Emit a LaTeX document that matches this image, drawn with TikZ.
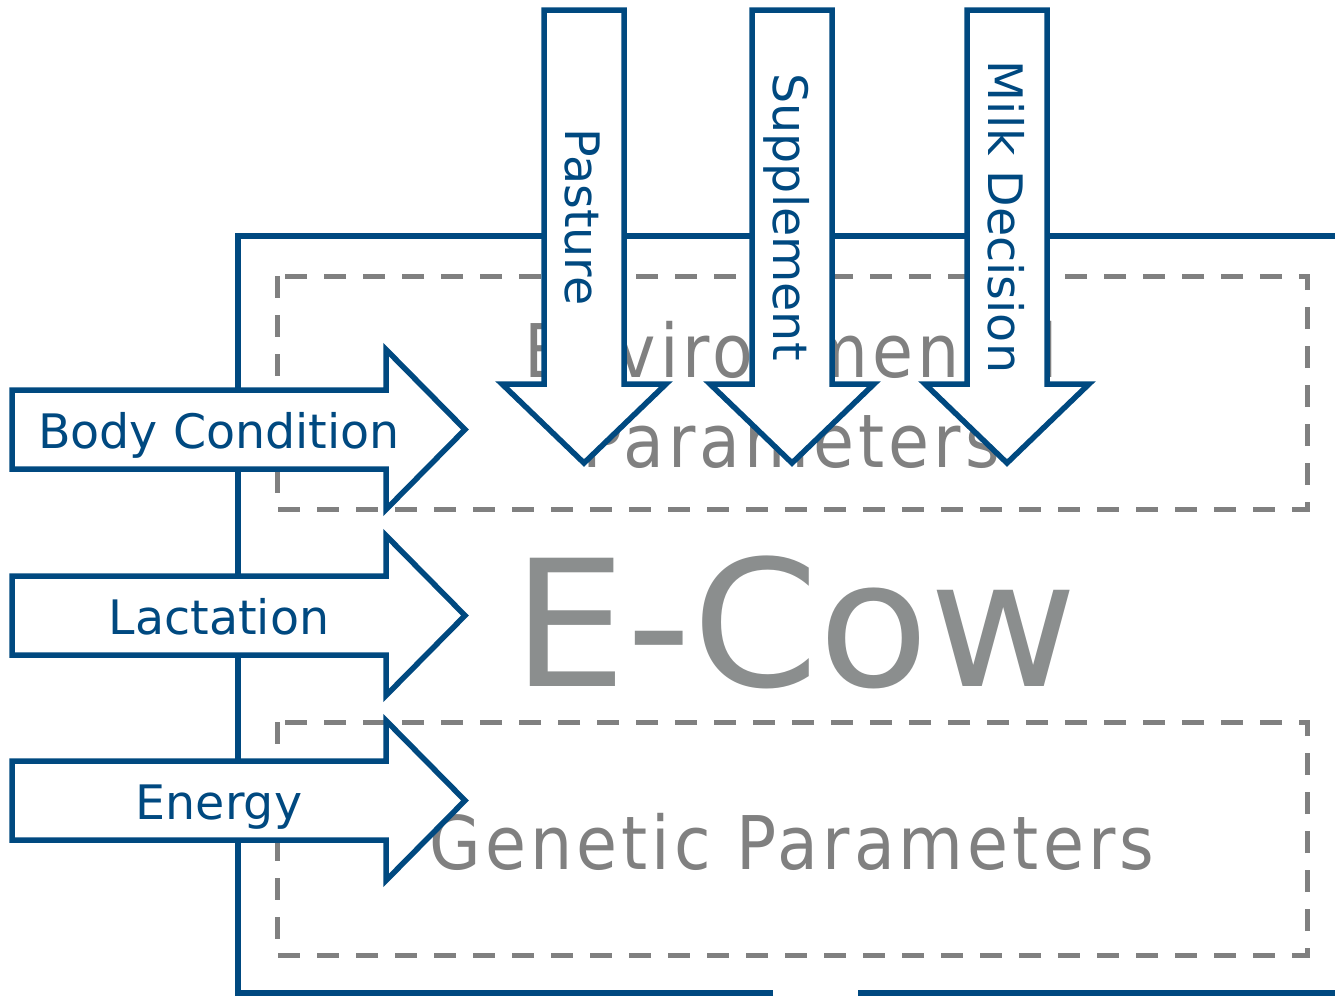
\documentclass[tikz,border=0pt]{standalone}
\usepackage{fontspec}
\setmainfont{DejaVu Sans}
\newfontfamily\zonefont[FakeStretch=0.9,LetterSpace=5.5]{DejaVu Sans}
\newfontfamily\titlefont[FakeStretch=1.03]{DejaVu Sans}
\definecolor{ecblue}{RGB}{0,73,128}
\definecolor{ecgrey}{RGB}{128,128,128}
\definecolor{ectitle}{RGB}{139,142,142}
\begin{document}
\begin{tikzpicture}[x=1pt,y=-1pt,
  frame/.style={draw=ecblue,line width=5.5pt},
  zone/.style={draw=ecgrey,line width=5pt,dash pattern=on 22pt off 17pt},
  inflow/.style={draw=ecblue,fill=white,line width=5.5pt,line join=miter},
  flowlabel/.style={text=ecblue,font=\fontsize{47.5}{56}\selectfont,inner sep=0pt,anchor=base},
  zonelabel/.style={text=ecgrey,font=\zonefont\fontsize{74}{89}\selectfont,inner sep=0pt,anchor=base},
  titlelabel/.style={text=ectitle,font=\titlefont\fontsize{176}{200}\selectfont,inner sep=0pt,anchor=base}]
\useasboundingbox (0,0) rectangle (1335,997);

% outer model frame, open at the bottom
\draw[frame] (773,993) -- (238,993) -- (238,236) -- (1335,236);
\draw[frame] (858,993) -- (1335,993);

% parameter zones
\draw[zone] (277,276) rectangle (1307,509);
\draw[zone] (277,722) rectangle (1307,955);
\node[zonelabel] (envA) at (791,377) {Environmental};
\node[zonelabel] (envB) at (791,467) {Parameters};
\node[zonelabel] (gen) at (792,869) {Genetic Parameters};
\node[titlelabel] (ecow) at (795,686) {E-Cow};

% inputs from the left
\foreach \c in {429.5,615.5,800.5}{
  \draw[inflow] (12,\c-39.5) -- (386,\c-39.5) -- (386,\c-80) -- (465,\c)
    -- (386,\c+80) -- (386,\c+39.5) -- (12,\c+39.5) -- cycle;
}
\node[flowlabel] (body) at (219,448) {Body Condition};
\node[flowlabel] (lact) at (219,634) {Lactation};
\node[flowlabel] (energy) at (219,819) {Energy};

% inputs from above
\foreach \c in {584,792,1007}{
  \draw[inflow] (\c-40,10) -- (\c+40,10) -- (\c+40,384) -- (\c+82,384)
    -- (\c,463) -- (\c-82,384) -- (\c-40,384) -- cycle;
}
\node[flowlabel,rotate=-90] (pasture) at (565,217) {Pasture};
\node[flowlabel,rotate=-90] (supp) at (773,217) {Supplement};
\node[flowlabel,rotate=-90] (milk) at (988,217) {Milk Decision};
\end{tikzpicture}
\end{document}
